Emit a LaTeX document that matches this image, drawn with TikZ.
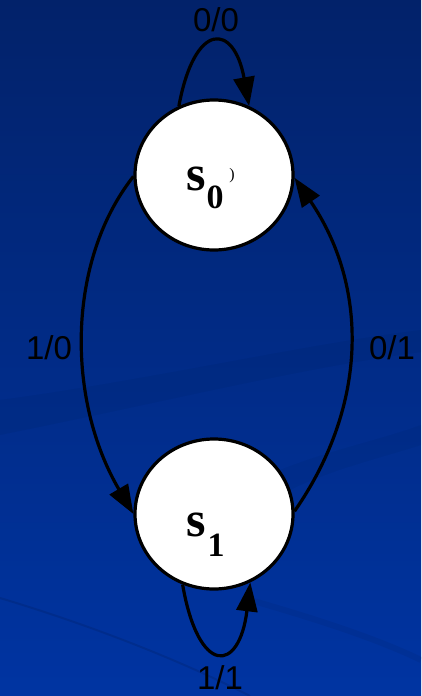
\documentclass[tikz,border=0pt]{standalone}
\usepackage{fontspec}
\setmainfont{Liberation Serif}
\newfontfamily\lblfont{Liberation Sans}
\usetikzlibrary{arrows.meta,shapes.geometric}
\definecolor{bgtop}{RGB}{2,34,106}
\definecolor{bgmid}{RGB}{0,49,152}
\definecolor{bgbot}{RGB}{0,52,162}
\begin{document}
\begin{tikzpicture}[x=1pt,y=-1pt,
  state/.style={ellipse, draw=black, line width=3.2pt, fill=white,
    minimum width=158pt, minimum height=150pt, inner sep=0pt},
  lbl/.style={font=\lblfont\fontsize{33}{33}\selectfont, inner sep=0pt, text=black},
  sname/.style={font=\bfseries\fontsize{50}{50}\selectfont, inner sep=0pt, text=black},
  ssub/.style={font=\bfseries\fontsize{34}{34}\selectfont, inner sep=0pt, text=black},
  trans/.style={draw=black, line width=3.2pt, -{Triangle[length=29pt,width=21pt]}}]
\useasboundingbox (0,0) rectangle (421,696);
\shade[top color=bgtop, middle color=bgmid, bottom color=bgbot] (0,0) rectangle (421,696);
% faint background streaks
\fill[black, opacity=0.045] (0,400) .. controls (150,380) and (300,345) .. (421,330)
  -- (421,352) .. controls (300,368) and (150,405) .. (0,435) -- cycle;
\fill[black, opacity=0.04] (280,470) .. controls (330,450) and (380,440) .. (421,425)
  -- (421,445) .. controls (380,458) and (330,470) .. (290,490) -- cycle;
\draw[black, opacity=0.1, line width=2pt] (0,598) .. controls (90,625) and (180,660) .. (250,696);
\draw[black, opacity=0.05, line width=6pt] (250,600) .. controls (320,620) and (380,640) .. (421,660);

\node[state] (s0) at (214,175) {};
\node[state] (s1) at (214,514) {};

\node[sname] (s0s) at ([shift={(-18,4)}]s0.center) {s};
\node[ssub] (s0i) at ([shift={(1,22)}]s0.center) {0};
\node[inner sep=0pt, font=\fontsize{16}{16}\selectfont] (s0p) at ([shift={(18,1)}]s0.center) {)};
\node[sname] (s1s) at ([shift={(-18,11)}]s1.center) {s};
\node[ssub] (s1i) at ([shift={(2,31)}]s1.center) {1};

% self loops
\draw[trans] (s0.117) .. controls +(16,-86) and +(-15,-83) .. (s0.63);
\draw[trans] (s1.246) .. controls +(16,92) and +(-11,91) .. (s1.298);
% transitions between states
\draw[trans] (s0.181) .. controls +(-67,85) and +(-67,-114) .. (s1.180);
\draw[trans] (s1.2) .. controls +(75,-108) and +(73,107) .. (s0.358);

\node[lbl] (l00) at (216,20) {0/0};
\node[lbl] (l11) at (220,678) {1/1};
\node[lbl] (l10) at (49,348) {1/0};
\node[lbl] (l01) at (392,348) {0/1};
\end{tikzpicture}
\end{document}
